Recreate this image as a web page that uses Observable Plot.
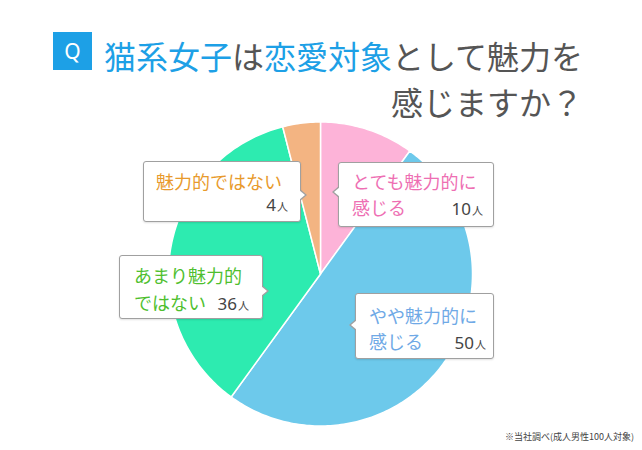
<!DOCTYPE html>
<html><head><meta charset="utf-8">
<script src="https://cdn.jsdelivr.net/npm/d3@7"></script>
<script src="https://cdn.jsdelivr.net/npm/@observablehq/plot@0.6"></script>
<style>
html,body{margin:0;padding:0;background:#fff;}
body{font-family:"Noto Sans CJK JP","Noto Sans",sans-serif;}
#wrap{position:relative;width:642px;height:450px;overflow:hidden;}
#head{position:relative;height:120px;}
#qbox{position:absolute;left:53px;top:32px;width:39px;height:38px;background:#1da0e6;color:#fff;font-size:21px;line-height:38px;text-align:center;font-family:"Noto Sans","Noto Sans CJK JP",sans-serif;}
#title{position:absolute;right:59px;top:32px;font-size:32px;line-height:46px;text-align:right;color:#555;white-space:nowrap;}
#title .b{color:#1da0e6;}
#chart svg{display:block;}
.co{position:absolute;box-sizing:border-box;background:#fff;border:1px solid #a0a0a0;border-radius:3px;box-shadow:0 1px 2px rgba(0,0,0,0.12);font-size:18px;white-space:nowrap;}
.co .l2{display:flex;justify-content:space-between;align-items:baseline;}
.co .n{color:#444;font-size:17px;font-family:"Noto Sans","Noto Sans CJK JP",sans-serif;}
.co .n small{font-size:11px;margin-left:1px;}
.co.r::before,.co.r::after,.co.l::before,.co.l::after{content:"";position:absolute;width:0;height:0;border-style:solid;top:var(--py);}
.co.r::before{left:100%;margin-top:-6px;border-width:6px 0 6px 7px;border-color:transparent transparent transparent #a0a0a0;}
.co.r::after{left:calc(100% - 1px);margin-top:-5px;border-width:5px 0 5px 6px;border-color:transparent transparent transparent #fff;}
.co.l::before{right:100%;margin-top:-6px;border-width:6px 7px 6px 0;border-color:transparent #a0a0a0 transparent transparent;}
.co.l::after{right:calc(100% - 1px);margin-top:-5px;border-width:5px 6px 5px 0;border-color:transparent #fff transparent transparent;}
#foot{position:absolute;right:8px;top:430px;font-size:9px;color:#444;white-space:nowrap;}
</style>
</head><body>
<div id="wrap">
  <div id="head">
    <div id="qbox">Q</div>
    <div id="title"><span class="b">猫系女子</span>は<span class="b">恋愛対象</span>として魅力を<br>感じますか？</div>
  </div>
  <div id="chart"></div>
  <div id="callouts"></div>
  <div id="foot">※当社調べ(成人男性100人対象)</div>
</div>
<script>
const categories = ["とても魅力的に感じる", "やや魅力的に感じる", "あまり魅力的ではない", "魅力的ではない"];
const values = [10, 50, 36, 4];
const colors = ["#fdb3d8", "#6dc9eb", "#2debb0", "#f3b482"];
const labelLine1 = ["とても魅力的に", "やや魅力的に", "あまり魅力的", "魅力的ではない"];
const labelLine2 = ["感じる", "感じる", "ではない", ""];
const labelColors = ["#ee6fb3", "#6fa9e6", "#4fbf2f", "#e89a2c"];
const unit = "人";

// slice outlines from d3.pie angles (0 at top, clockwise)
const arcs = d3.pie().sort(null).value(d => d)(values);
const pts = [];
arcs.forEach((a, i) => {
  pts.push({cat: categories[i], x: 0, y: 0});
  const n = Math.max(2, Math.ceil((a.endAngle - a.startAngle) / (Math.PI / 180)));
  for (let j = 0; j <= n; j++) {
    const t = a.startAngle + (a.endAngle - a.startAngle) * j / n;
    pts.push({cat: categories[i], x: Math.sin(t), y: Math.cos(t)});
  }
});

const chart = Plot.plot({
  width: 642, height: 330, margin: 0,
  style: {background: "transparent"},
  x: {domain: [-1, 1], range: [168, 472], axis: null},
  y: {domain: [-1, 1], range: [305.5, 1.5], axis: null},
  color: {type: "ordinal", domain: categories, range: colors},
  marks: [
    Plot.line(pts, {x: "x", y: "y", z: "cat", fill: "cat", stroke: "white", strokeWidth: 1.5, curve: "linear-closed"})
  ]
});
document.getElementById("chart").appendChild(chart);

// callout boxes (layout)
const boxes = [
  {left: 338, top: 162, w: 156, h: 65, side: "l", py: 29, lh: 26, pt: 5, pl: 13, pr: 10},
  {left: 355, top: 293, w: 139, h: 66, side: "l", py: 31, lh: 26, pt: 8, pl: 13, pr: 7},
  {left: 119, top: 255, w: 144, h: 64, side: "r", py: 35, lh: 27, pt: 5.5, pl: 14, pr: 13},
  {left: 143, top: 161, w: 158, h: 61, side: "r", py: 33, lh: 24, pt: 6.5, pl: 12, pr: 12}
];
const co = document.getElementById("callouts");
boxes.forEach((b, i) => {
  const d = document.createElement("div");
  d.className = "co " + b.side;
  d.style.cssText = `left:${b.left}px;top:${b.top}px;width:${b.w}px;height:${b.h}px;--py:${b.py}px;padding:${b.pt}px ${b.pr}px 0 ${b.pl}px;line-height:${b.lh}px;`;
  const c = labelColors[i];
  d.innerHTML = `<div style="color:${c}">${labelLine1[i]}</div>` +
    `<div class="l2" style="${labelLine2[i] ? "" : "justify-content:flex-end"}">` +
    (labelLine2[i] ? `<span style="color:${c}">${labelLine2[i]}</span>` : "") +
    `<span class="n">${values[i]}<small>${unit}</small></span></div>`;
  co.appendChild(d);
});
</script>
</body></html>
